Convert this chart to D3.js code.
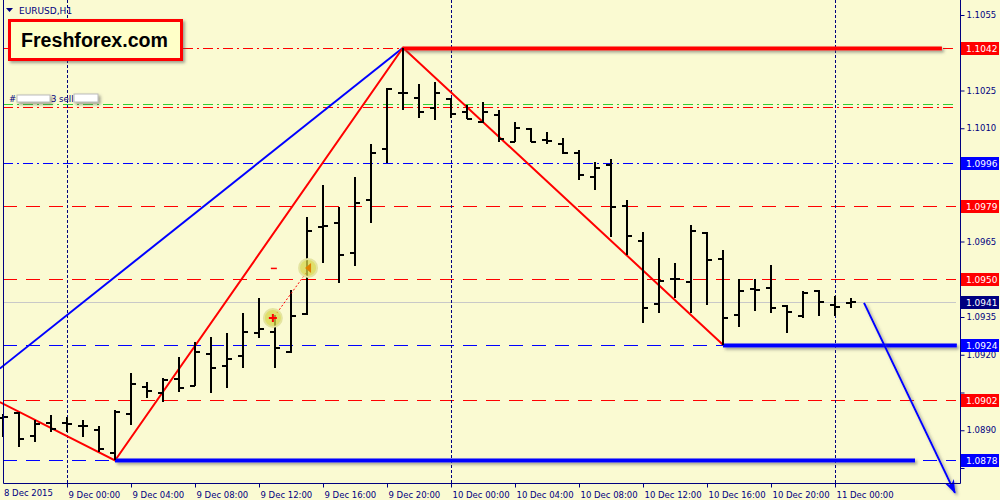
<!DOCTYPE html>
<html>
<head>
<meta charset="utf-8">
<script src="https://cdn.jsdelivr.net/npm/d3@7"></script>
<style>
  html, body { margin: 0; padding: 0; background: #fafad2; }
  svg { display: block; }
</style>
</head>
<body>
<svg id="chart" width="1000" height="500"></svg>
<script>
// EURUSD H1 bars, 8 Dec 20:00 -> 11 Dec 01:00
const times = [
  "2015-12-08 20:00","2015-12-08 21:00","2015-12-08 22:00","2015-12-08 23:00",
  "2015-12-09 00:00","2015-12-09 01:00","2015-12-09 02:00","2015-12-09 03:00",
  "2015-12-09 04:00","2015-12-09 05:00","2015-12-09 06:00","2015-12-09 07:00",
  "2015-12-09 08:00","2015-12-09 09:00","2015-12-09 10:00","2015-12-09 11:00",
  "2015-12-09 12:00","2015-12-09 13:00","2015-12-09 14:00","2015-12-09 15:00",
  "2015-12-09 16:00","2015-12-09 17:00","2015-12-09 18:00","2015-12-09 19:00",
  "2015-12-09 20:00","2015-12-09 21:00","2015-12-09 22:00","2015-12-09 23:00",
  "2015-12-10 00:00","2015-12-10 01:00","2015-12-10 02:00","2015-12-10 03:00",
  "2015-12-10 04:00","2015-12-10 05:00","2015-12-10 06:00","2015-12-10 07:00",
  "2015-12-10 08:00","2015-12-10 09:00","2015-12-10 10:00","2015-12-10 11:00",
  "2015-12-10 12:00","2015-12-10 13:00","2015-12-10 14:00","2015-12-10 15:00",
  "2015-12-10 16:00","2015-12-10 17:00","2015-12-10 18:00","2015-12-10 19:00",
  "2015-12-10 20:00","2015-12-10 21:00","2015-12-10 22:00","2015-12-10 23:00",
  "2015-12-11 00:00","2015-12-11 01:00"
];
const opens = [
  1.08949,1.08969,1.08877,1.08929,1.08929,1.08917,1.08901,1.08810,
  1.08965,1.09072,1.09048,1.09104,1.09076,1.09203,1.09156,1.09195,
  1.09287,1.09291,1.09211,1.09362,1.09708,1.09724,1.09604,1.09815,
  1.10018,1.10240,1.10220,1.10181,1.10216,1.10165,1.10125,1.10153,
  1.10045,1.10097,1.10053,1.10037,1.10002,1.09906,1.09954,1.09791,
  1.09652,1.09402,1.09501,1.09489,1.09684,1.09581,1.09358,1.09461,
  1.09465,1.09394,1.09354,1.09454,1.09398,1.09406
];
const highs = [
  1.08965,1.08973,1.08941,1.08961,1.08953,1.08941,1.08917,1.08981,
  1.09128,1.09092,1.09108,1.09191,1.09251,1.09271,1.09287,1.09366,
  1.09426,1.09358,1.09457,1.09747,1.09875,1.09787,1.09906,1.10037,
  1.10260,1.10420,1.10276,1.10284,1.10220,1.10192,1.10204,1.10173,
  1.10125,1.10101,1.10085,1.10061,1.10014,1.09966,1.09978,1.09815,
  1.09688,1.09585,1.09565,1.09716,1.09688,1.09616,1.09501,1.09501,
  1.09557,1.09398,1.09454,1.09457,1.09434,1.09426
];
const lows = [
  1.08873,1.08834,1.08854,1.08893,1.08893,1.08873,1.08814,1.08780,
  1.08921,1.09028,1.09012,1.09052,1.09076,1.09048,1.09068,1.09148,
  1.09267,1.09148,1.09207,1.09358,1.09565,1.09485,1.09553,1.09724,
  1.09962,1.10173,1.10141,1.10133,1.10141,1.10137,1.10121,1.10045,
  1.10045,1.10045,1.10037,1.09998,1.09894,1.09855,1.09668,1.09597,
  1.09326,1.09366,1.09426,1.09366,1.09398,1.09240,1.09310,1.09374,
  1.09366,1.09287,1.09346,1.09354,1.09354,1.09386
];
const closes = [
  1.08953,1.08865,1.08925,1.08905,1.08925,1.08917,1.08826,1.08973,
  1.09084,1.09056,1.09100,1.09068,1.09211,1.09148,1.09183,1.09291,
  1.09302,1.09227,1.09354,1.09692,1.09712,1.09597,1.09803,1.10002,
  1.10256,1.10240,1.10165,1.10240,1.10157,1.10137,1.10165,1.10057,
  1.10101,1.10045,1.10049,1.10002,1.09914,1.09942,1.09787,1.09672,
  1.09386,1.09493,1.09501,1.09692,1.09577,1.09346,1.09454,1.09457,
  1.09386,1.09370,1.09446,1.09410,1.09390,1.09410
];

const priceTicks = [1.1055, 1.1040, 1.1025, 1.1010, 1.0995, 1.0980, 1.0965,
                    1.0950, 1.0935, 1.0920, 1.0905, 1.0890, 1.0875];
const timeTicks = ["2015-12-09 00:00","2015-12-09 04:00","2015-12-09 08:00",
  "2015-12-09 12:00","2015-12-09 16:00","2015-12-09 20:00","2015-12-10 00:00",
  "2015-12-10 04:00","2015-12-10 08:00","2015-12-10 12:00","2015-12-10 16:00",
  "2015-12-10 20:00","2015-12-11 00:00"];
const daySeparators = ["2015-12-09 00:00","2015-12-10 00:00","2015-12-11 00:00"];

// horizontal levels
const levelPrices = [1.1042, 1.10196, 1.10184, 1.0996, 1.0979, 1.0950, 1.0941, 1.0924, 1.0902, 1.0878];
const levelKinds  = ["dashdot-red","dashdot-green","dashdot-red","dashdot-blue","dash-red",
                     "dash-red","bid","dash-blue","dash-red","dash-blue"];
const labelPrices = [1.1042, 1.0996, 1.0979, 1.0950, 1.0941, 1.0924, 1.0902, 1.0878];
const labelKinds  = ["red","blue","red","red","navy","blue","red","blue"];

// thick level segments
const thickPrices = [1.1042, 1.0924, 1.0878];
const thickFrom   = ["2015-12-09 21:00","2015-12-10 17:00","2015-12-09 03:00"];
const thickTo     = ["2015-12-11 06:41","2015-12-11 07:37","2015-12-11 05:00"];

// trend lines
const zigzagTimes  = ["2015-12-08 19:48","2015-12-09 03:00","2015-12-09 21:00","2015-12-10 17:00"];
const zigzagPrices = [1.09012, 1.0878, 1.1042, 1.0924];
const blueTimes  = ["2015-12-08 19:48","2015-12-09 21:00"];
const bluePrices = [1.09145, 1.1042];
const arrowTimes  = ["2015-12-11 01:49","2015-12-11 07:30"];
const arrowPrices = [1.09406, 1.08651];
const markTimes  = ["2015-12-09 12:52","2015-12-09 15:04"];
const markPrices = [1.09346, 1.09545];

const parse = d3.timeParse("%Y-%m-%d %H:%M");
const W = 1000, H = 500;
const pL = 3, pR = 960, pT = 0, pB = 483;
const FONT = "'DejaVu Sans', Tahoma, sans-serif";

const x = d3.scaleTime()
  .domain([parse("2015-12-08 20:00"), parse("2015-12-11 00:00")])
  .range([3, 835]);
const y = d3.scaleLinear().domain([1.0875, 1.1055]).range([468, 15]);

const svg = d3.select("#chart");
const defs = svg.append("defs");
const sh = defs.append("filter").attr("id", "shadow")
  .attr("filterUnits", "userSpaceOnUse")
  .attr("x", 0).attr("y", 0).attr("width", W).attr("height", H);
sh.append("feDropShadow").attr("dx", 2).attr("dy", 2).attr("stdDeviation", 1.5)
  .attr("flood-color", "#555").attr("flood-opacity", 0.55);
defs.append("clipPath").attr("id", "plot").append("rect")
  .attr("x", 0).attr("y", pT).attr("width", pR).attr("height", pB - pT);
defs.append("marker").attr("id", "arrow")
  .attr("viewBox", "0 0 14 10").attr("refX", 13).attr("refY", 5)
  .attr("markerWidth", 14).attr("markerHeight", 10)
  .attr("markerUnits", "userSpaceOnUse").attr("orient", "auto")
  .append("path").attr("d", "M0,0 L14,5 L0,10 L4,5 Z").attr("fill", "#0000ff");

svg.append("rect").attr("width", W).attr("height", H).attr("fill", "#fafad2");

// horizontal levels (drawn first, unclipped)
const kindStyle = {
  "dashdot-red":   { c: "#ff0000", d: "10,4,2,4" },
  "dashdot-green": { c: "#32cd32", d: "10,4,2,4" },
  "dashdot-blue":  { c: "#0000ff", d: "10,4,2,4" },
  "dash-red":      { c: "#ff0000", d: "14,9" },
  "dash-blue":     { c: "#0000ff", d: "14,9" },
  "bid":           { c: "#c8c8c8", d: null }
};
svg.append("g").selectAll("path").data(levelPrices).join("path")
  .attr("d", d => `M${pL},${Math.round(y(d)) + 0.5}H${pR - 4}`)
  .attr("fill", "none")
  .attr("stroke", (d, i) => kindStyle[levelKinds[i]].c)
  .attr("stroke-width", 1)
  .attr("stroke-dasharray", (d, i) => kindStyle[levelKinds[i]].d);

const plot = svg.append("g").attr("clip-path", "url(#plot)");

// day separators
plot.append("g").selectAll("line").data(daySeparators).join("line")
  .attr("x1", d => x(parse(d)) + 0.5).attr("x2", d => x(parse(d)) + 0.5)
  .attr("y1", pT).attr("y2", pB)
  .attr("stroke", "#000080").attr("stroke-dasharray", "3,2");

// trend lines
const line = d3.line().x(d => x(parse(d[0]))).y(d => y(d[1]));
plot.append("path")
  .datum(blueTimes.map((t, i) => [t, bluePrices[i]]))
  .attr("d", line).attr("fill", "none").attr("stroke", "#0000ff").attr("stroke-width", 2);
plot.append("path")
  .datum(zigzagTimes.map((t, i) => [t, zigzagPrices[i]]))
  .attr("d", line).attr("fill", "none").attr("stroke", "#ff0000").attr("stroke-width", 2);

// thick segments
plot.append("g").selectAll("line").data(thickPrices).join("line")
  .attr("x1", (d, i) => x(parse(thickFrom[i]))).attr("x2", (d, i) => x(parse(thickTo[i])))
  .attr("y1", d => Math.round(y(d)) + 0.5).attr("y2", d => Math.round(y(d)) + 0.5)
  .attr("stroke", (d, i) => i === 0 ? "#ff0000" : "#0000ff")
  .attr("stroke-width", 4).attr("filter", "url(#shadow)");

// bars
const bars = plot.append("g").attr("stroke", "#000").attr("stroke-width", 2)
  .attr("shape-rendering", "crispEdges");
times.forEach((t, i) => {
  const cx = Math.round(x(parse(t)));
  const g = bars.append("g");
  g.append("line").attr("x1", cx).attr("x2", cx)
    .attr("y1", y(highs[i])).attr("y2", y(lows[i]));
  g.append("line").attr("x1", cx - 5).attr("x2", cx)
    .attr("y1", Math.round(y(opens[i]))).attr("y2", Math.round(y(opens[i])));
  g.append("line").attr("x1", cx).attr("x2", cx + 5)
    .attr("y1", Math.round(y(closes[i]))).attr("y2", Math.round(y(closes[i])));
});

// small markers
const m = markTimes.map((t, i) => [x(parse(t)), y(markPrices[i])]);
plot.append("line").attr("x1", m[0][0] + 4).attr("y1", m[0][1] - 5)
  .attr("x2", m[1][0] - 2).attr("y2", m[1][1] + 5)
  .attr("stroke", "#ff0000").attr("stroke-dasharray", "2,2");
plot.append("g").selectAll("circle").data(m).join("circle")
  .attr("cx", d => d[0]).attr("cy", d => d[1]).attr("r", 9)
  .attr("fill", "#d6d64a").attr("fill-opacity", 0.75)
  .attr("stroke", "#e4e4a0").attr("stroke-width", 2);
plot.append("path")
  .attr("d", `M${m[0][0] - 4},${m[0][1]}h8M${m[0][0]},${m[0][1] - 4}v8`)
  .attr("stroke", "#ff0000").attr("stroke-width", 2);
plot.append("path")
  .attr("d", `M${m[1][0] + 3},${m[1][1] - 5}L${m[1][0] - 3},${m[1][1]}L${m[1][0] + 3},${m[1][1] + 5}Z`)
  .attr("fill", "#e08000");
plot.append("line").attr("x1", m[0][0] - 2).attr("x2", m[0][0] + 4)
  .attr("y1", m[1][1] + 0.5).attr("y2", m[1][1] + 0.5)
  .attr("stroke", "#ff0000").attr("stroke-width", 1.5);

// arrow
svg.append("line")
  .attr("x1", x(parse(arrowTimes[0]))).attr("y1", y(arrowPrices[0]))
  .attr("x2", x(parse(arrowTimes[1]))).attr("y2", y(arrowPrices[1]))
  .attr("stroke", "#0000ff").attr("stroke-width", 2)
  .attr("marker-end", "url(#arrow)").attr("filter", "url(#shadow)");

// frame
svg.append("path")
  .attr("d", `M${pL + 0.5},${pT}V${pB + 0.5}H${pR + 0.5}V${pT}`)
  .attr("fill", "none").attr("stroke", "#000080");

// price axis; tick labels hidden where a level label covers them
const yAxis = svg.append("g").attr("transform", `translate(${pR + 0.5},0)`)
  .call(d3.axisRight(y).tickValues(priceTicks).tickSize(4).tickPadding(2)
    .tickFormat(d3.format(".4f")));
yAxis.select(".domain").remove();
yAxis.selectAll("line").attr("stroke", "#000080");
yAxis.selectAll("text").attr("fill", "#000080").attr("font-size", 8.5)
  .style("font-family", FONT)
  .style("display", d => labelPrices.some(p => Math.abs(y(p) - y(d)) < 8) ? "none" : null);

// time axis
const xAxis = svg.append("g").attr("transform", `translate(0,${pB + 0.5})`)
  .call(d3.axisBottom(x).tickValues(timeTicks.map(parse)).tickSize(4).tickPadding(4)
    .tickFormat(d3.timeFormat("%-d %b %H:%M")));
xAxis.select(".domain").remove();
xAxis.selectAll("line").attr("stroke", "#000080");
xAxis.selectAll("text").attr("fill", "#000080").attr("font-size", 8.5)
  .style("font-family", FONT).attr("text-anchor", "start").attr("dx", 1);
svg.append("text").attr("x", 4).attr("y", 496).attr("fill", "#000080")
  .attr("font-size", 8.5).style("font-family", FONT)
  .text(d3.timeFormat("%-d %b %Y")(parse(times[0])));

// price labels
const labelFill = { red: "#ff0000", blue: "#0000ff", navy: "#000080" };
const lab = svg.append("g").selectAll("g").data(labelPrices).join("g")
  .attr("transform", d => `translate(${pR + 1},${Math.round(y(d))})`);
lab.append("rect").attr("x", 0).attr("y", -6).attr("width", 38).attr("height", 13)
  .attr("fill", (d, i) => labelFill[labelKinds[i]]);
lab.append("text").attr("x", 5).attr("y", 4).attr("fill", "#fff").attr("font-size", 9)
  .style("font-family", FONT)
  .text(d => d3.format(".4f")(d));

// title
svg.append("path").attr("d", "M6,8 L13,8 L9.5,12 Z").attr("fill", "#000080");
svg.append("text").attr("x", 19).attr("y", 14).attr("fill", "#000080")
  .attr("font-size", 9).style("font-family", FONT).text("EURUSD,H1");

// order labels (masked)
svg.append("text").attr("x", 9).attr("y", 102).attr("fill", "#000080")
  .attr("font-size", 8.5).style("font-family", FONT).text("#");
svg.append("rect").attr("x", 17).attr("y", 95).attr("width", 33).attr("height", 7)
  .attr("fill", "#fff").attr("stroke", "#bbb").attr("filter", "url(#shadow)");
svg.append("text").attr("x", 51).attr("y", 102).attr("fill", "#000080")
  .attr("font-size", 8.5).style("font-family", FONT).text("3 sell");
svg.append("rect").attr("x", 74).attr("y", 94).attr("width", 24).attr("height", 8)
  .attr("fill", "#fff").attr("stroke", "#bbb").attr("filter", "url(#shadow)");

// logo box
svg.append("rect").attr("x", 9.5).attr("y", 20.5).attr("width", 172).attr("height", 39)
  .attr("fill", "#ffffc8").attr("stroke", "#ff0000").attr("stroke-width", 3)
  .attr("filter", "url(#shadow)");
svg.append("text").attr("x", 21).attr("y", 47).attr("fill", "#000")
  .style("font-family", "'Liberation Sans', Arial, sans-serif").attr("font-weight", "bold")
  .attr("font-size", 19.6).text("Freshforex.com");
</script>
</body>
</html>
